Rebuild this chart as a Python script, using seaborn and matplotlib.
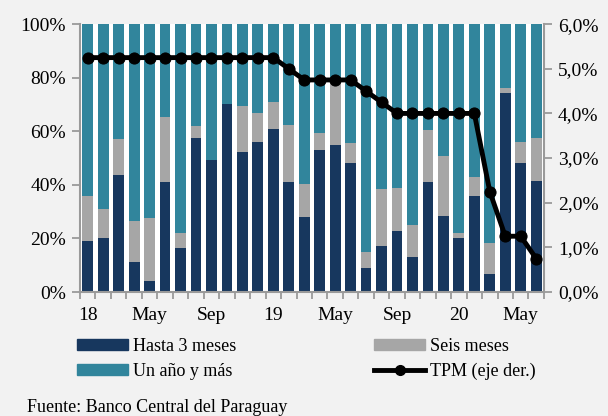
import seaborn as sns
import matplotlib.pyplot as plt
from matplotlib.lines import Line2D
from matplotlib.patches import Patch
from matplotlib.ticker import FuncFormatter, FixedLocator

# monthly, Jan 2018 - Jun 2020 (% of total)
months = list(range(30))
hasta_3 = [18.9, 20.0, 43.5, 11.3, 4.2, 41.2, 16.6, 57.6, 49.3, 70.3,
           52.4, 56.1, 61.0, 41.1, 28.0, 53.2, 54.7, 48.0, 8.8, 17.0,
           22.6, 12.9, 41.1, 28.4, 20.0, 35.8, 6.7, 74.4, 48.3, 41.6]
seis = [16.8, 11.1, 13.6, 15.4, 23.6, 24.3, 5.5, 4.4, 0.0, 0.0,
        17.0, 10.9, 9.8, 21.3, 12.2, 6.3, 23.8, 7.8, 6.0, 21.4,
        16.4, 12.2, 19.4, 22.2, 1.9, 7.3, 11.7, 1.7, 7.7, 16.0]
tpm = [5.25, 5.25, 5.25, 5.25, 5.25, 5.25, 5.25, 5.25, 5.25, 5.25,
       5.25, 5.25, 5.25, 5.0, 4.75, 4.75, 4.75, 4.75, 4.5, 4.25,
       4.0, 4.0, 4.0, 4.0, 4.0, 4.0, 2.25, 1.25, 1.25, 0.75]
tick_pos = [0, 4, 8, 12, 16, 20, 24, 28]
tick_labels = ['18', 'May', 'Sep', '19', 'May', 'Sep', '20', 'May']

c_dark = '#17375e'
c_gray = '#a6a6a6'
c_teal = '#31859c'
spine_c = '#9a9a9a'

plt.rcParams['font.family'] = ['Liberation Serif', 'DejaVu Serif']

fig = plt.figure(figsize=(6.08, 4.16), dpi=100, facecolor='#f2f2f2')
ax = fig.add_axes([0.1316, 0.298, 0.763, 0.644])
ax.set_facecolor('white')

full = [100] * len(months)
dark_gray = [a + b for a, b in zip(hasta_3, seis)]
sns.barplot(x=months, y=full, color=c_teal, width=0.7, saturation=1, ax=ax)
sns.barplot(x=months, y=dark_gray, color=c_gray, width=0.7, saturation=1, ax=ax)
sns.barplot(x=months, y=hasta_3, color=c_dark, width=0.7, saturation=1, ax=ax)

ax.set_xlim(-0.5, 29.5)
ax.set_ylim(0, 100)
ax.set_yticks([0, 20, 40, 60, 80, 100])
ax.yaxis.set_major_formatter(FuncFormatter(lambda v, p: f'{v:.0f}%'))
ax.set_xticks(tick_pos)
ax.set_xticklabels(tick_labels)
ax.xaxis.set_minor_locator(FixedLocator([i - 0.5 for i in range(31)]))
ax.tick_params(axis='x', which='major', length=0, pad=11, labelsize=14)
ax.tick_params(axis='x', which='minor', length=5, width=1.3, color=spine_c)
ax.tick_params(axis='y', length=6, width=1.3, color=spine_c, labelsize=14, pad=4)
ax.set_xlabel('')
ax.set_ylabel('')
for s in ['top', 'right']:
    ax.spines[s].set_visible(False)
for s in ['left', 'bottom']:
    ax.spines[s].set_color(spine_c)
    ax.spines[s].set_linewidth(1.5)

ax2 = ax.twinx()
sns.lineplot(x=months, y=tpm, color='black', linewidth=3.5, marker='o',
             markersize=8, markeredgecolor='black', ax=ax2)
ax2.set_ylim(0, 6)
ax2.set_yticks([0, 1, 2, 3, 4, 5, 6])
ax2.yaxis.set_major_formatter(FuncFormatter(lambda v, p: f'{v:.1f}%'.replace('.', ',')))
ax2.tick_params(axis='y', length=6, width=1.3, color=spine_c, labelsize=14, pad=4)
ax2.set_xlim(-0.5, 29.5)
for s in ['top', 'left', 'bottom']:
    ax2.spines[s].set_visible(False)
ax2.spines['right'].set_color(spine_c)
ax2.spines['right'].set_linewidth(1.5)

handles = [Patch(color=c_dark), Patch(color=c_teal), Patch(color=c_gray),
           Line2D([0], [0], color='black', linewidth=3.5, marker='o', markersize=7)]
labels = ['Hasta 3 meses', 'Un año y más', 'Seis meses', 'TPM (eje der.)']
fig.legend(handles, labels, ncol=2, loc='upper left', bbox_to_anchor=(0.112, 0.21),
           frameon=False, fontsize=13, handlelength=2.8, handleheight=0.6,
           handletextpad=0.3, columnspacing=7.65, labelspacing=0.45, borderpad=0)

fig.text(0.044, 0.01, 'Fuente: Banco Central del Paraguay', fontsize=13)

fig.savefig('out.png', dpi=100, facecolor=fig.get_facecolor())
